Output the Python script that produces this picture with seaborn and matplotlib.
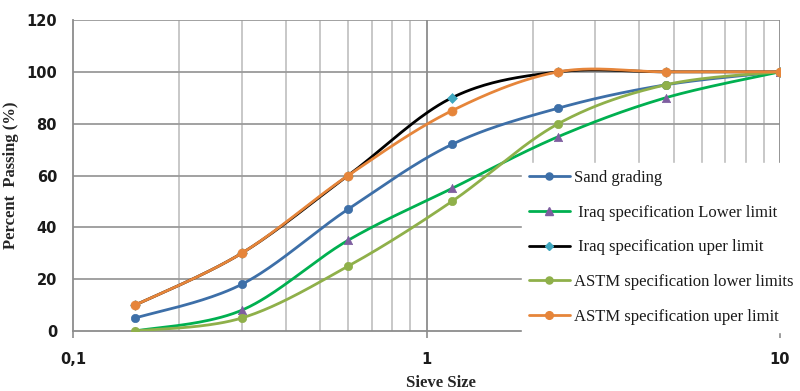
import numpy as np
import pandas as pd
import matplotlib
matplotlib.use("Agg")
import matplotlib.pyplot as plt
from matplotlib.lines import Line2D
from matplotlib.ticker import FixedLocator, NullFormatter
import seaborn as sns

# Sieve sizes (mm) and percent passing for each grading curve
sieve_sizes = [0.15, 0.3, 0.6, 1.18, 2.36, 4.75, 10]
sand_grading = [5, 18, 47, 72, 86, 95, 100]
iraq_lower = [0, 8, 35, 55, 75, 90, 100]
iraq_upper = [10, 30, 60, 90, 100, 100, 100]
astm_lower = [0, 5, 25, 50, 80, 95, 100]
astm_upper = [10, 30, 60, 85, 100, 100, 100]

series_names = [
    "Sand grading",
    " Iraq specification Lower limit",
    " Iraq specification uper limit",
    "ASTM specification lower limits",
    "ASTM specification uper limit",
]
series_values = [sand_grading, iraq_lower, iraq_upper, astm_lower, astm_upper]
line_colors = ["#3D6FA8", "#00B050", "#000000", "#8FB04A", "#E6853A"]
marker_colors = ["#3D6FA8", "#7E5EA0", "#3FA7BF", "#8FB04A", "#E6853A"]
marker_shapes = ["o", "^", "D", "o", "o"]
marker_sizes = [6, 6, 5, 6, 6.5]

sns.set_theme(style="white")
plt.rcParams["font.family"] = ["DejaVu Sans"]

fig = plt.figure(figsize=(8.0, 3.91), dpi=100)
ax = fig.add_axes([0.0913, 0.1535, 0.8837, 0.7953])


def smooth_curve(xs, ys, n=40):
    """Catmull-Rom smoothing done in screen-like space (log x)."""
    sx = np.log10(np.asarray(xs, float)) * 353.0
    sy = np.asarray(ys, float) * 2.59
    pts = np.column_stack([sx, sy])
    pad = np.vstack([pts[0], pts, pts[-1]])
    out = []
    t = np.linspace(0, 1, n)[:, None]
    for i in range(1, len(pad) - 2):
        p0, p1, p2, p3 = pad[i - 1], pad[i], pad[i + 1], pad[i + 2]
        c1 = p1 + (p2 - p0) / 6.0
        c2 = p2 - (p3 - p1) / 6.0
        seg = ((1 - t) ** 3) * p1 + 3 * ((1 - t) ** 2) * t * c1 \
            + 3 * (1 - t) * t ** 2 * c2 + t ** 3 * p2
        out.append(seg if i == 1 else seg[1:])
    seg = np.vstack(out)
    return 10 ** (seg[:, 0] / 353.0), seg[:, 1] / 2.59


handles = []
for k, (name, vals) in enumerate(zip(series_names, series_values)):
    cx, cy = smooth_curve(sieve_sizes, vals)
    curve = pd.DataFrame({"size": cx, "passing": cy})
    sns.lineplot(data=curve, x="size", y="passing", sort=False, estimator=None,
                 color=line_colors[k], linewidth=2.0, ax=ax, zorder=3 + k,
                 legend=False)
    pts = pd.DataFrame({"size": sieve_sizes, "passing": vals})
    sns.scatterplot(data=pts, x="size", y="passing", marker=marker_shapes[k],
                    color=marker_colors[k], s=marker_sizes[k] ** 2,
                    edgecolor=marker_colors[k], linewidth=0.5, ax=ax,
                    zorder=3.5 + k, legend=False)
    handles.append(Line2D([0], [0], color=line_colors[k], linewidth=2.0,
                          marker=marker_shapes[k],
                          markerfacecolor=marker_colors[k],
                          markeredgecolor=marker_colors[k],
                          markersize=marker_sizes[k] * 0.85, label=name))

ax.set_xscale("log")
ax.set_xlim(0.1, 10)
ax.set_ylim(0, 120)
ax.set_yticks([0, 20, 40, 60, 80, 100, 120])

ax.xaxis.set_major_locator(FixedLocator([0.1, 1, 10]))
ax.xaxis.set_minor_locator(FixedLocator(
    [m * d for d in (0.1, 1) for m in range(2, 10)]))
ax.xaxis.set_minor_formatter(NullFormatter())
ax.set_xticklabels(["0,1", "1", "10"])

ax.grid(False)
for v in [0.2, 0.3, 0.4, 0.5, 0.6, 0.7, 0.8, 0.9, 2, 3, 4, 5, 6, 7, 8, 9]:
    ax.axvline(v, color="#C4C4C4", linewidth=1.3, zorder=1)
for v in [1, 10]:
    ax.axvline(v, color="#8C8C8C", linewidth=1.3, zorder=1.2)
for h in [20, 40, 60, 80, 100, 120]:
    ax.axhline(h, color="#9A9A9A", linewidth=1.3, zorder=1.1)

for side in ["top", "right"]:
    ax.spines[side].set_visible(False)
for side in ["left", "bottom"]:
    ax.spines[side].set_color("#8C8C8C")
    ax.spines[side].set_linewidth(1.3)

ax.tick_params(axis="x", which="major", length=5, width=1.2, color="#8C8C8C",
               pad=10, bottom=True)
ax.tick_params(axis="x", which="minor", length=0)
ax.tick_params(axis="y", length=0, pad=11.5)
for lab in ax.get_xticklabels() + ax.get_yticklabels():
    lab.set_fontweight("bold")
    lab.set_fontsize(10.5)
    lab.set_color("#1A1A1A")

ax.set_xlabel("Sieve Size", family="Liberation Serif", fontweight="bold",
              fontsize=12)
ax.xaxis.set_label_coords(0.52, -0.142)
ax.set_ylabel("Percent  Passing (%)", family="Liberation Serif",
              fontweight="bold", fontsize=12)
ax.yaxis.set_label_coords(-0.076, 0.5)

leg = ax.legend(handles=handles, loc="upper left",
                bbox_to_anchor=(0.635, 0.54), frameon=True, fancybox=False,
                framealpha=1.0, facecolor="white", edgecolor="white",
                prop={"family": "Liberation Serif", "size": 12},
                handlelength=2.5, handletextpad=0.24, labelspacing=1.13,
                borderpad=0.4, borderaxespad=0)
leg.set_zorder(20)
for t in leg.get_texts():
    t.set_color("#1A1A1A")

fig.savefig("out.png", dpi=100, facecolor="white")
